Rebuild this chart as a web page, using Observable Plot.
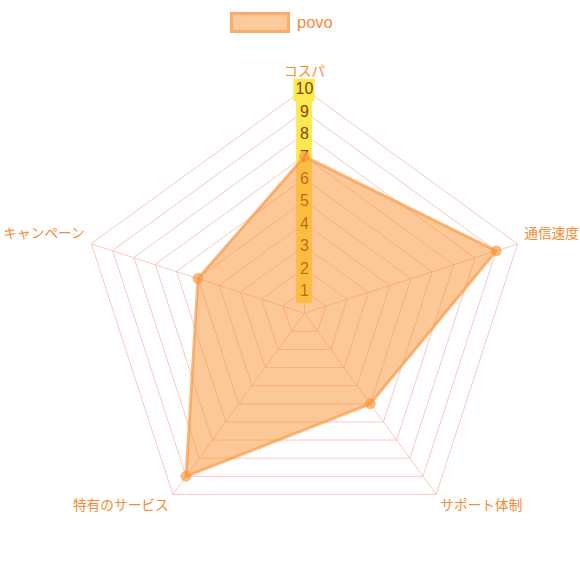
<!DOCTYPE html>
<html><head><meta charset="utf-8">
<script src="https://cdn.jsdelivr.net/npm/d3@7"></script>
<script src="https://cdn.jsdelivr.net/npm/@observablehq/plot@0.6"></script>
<style>
body{margin:0;background:#fff;font-family:"Noto Sans CJK JP","Noto Sans",sans-serif}
#legend{position:relative;height:44px;width:580px}
#legend .swatch{position:absolute;left:230px;top:12px;width:60px;height:21px;box-sizing:border-box;background:rgba(252,150,60,0.5);border:3px solid rgba(247,150,60,0.55)}
#legend .lab{position:absolute;left:297px;top:12px;line-height:21px;font-size:16.5px;color:#f68a35;font-family:"Liberation Sans",Arial,sans-serif}
#chart svg{display:block}
</style></head><body>
<div id="legend"><span class="swatch"></span><span class="lab"></span></div>
<div id="chart"></div>
<script>
const seriesName = "povo";
const categories = ["コスパ", "通信速度", "サポート体制", "特有のサービス", "キャンペーン"];
const values = [7, 9, 5, 9, 5];
const ticks = [1, 2, 3, 4, 5, 6, 7, 8, 9, 10];
const maxValue = 10;

document.querySelector("#legend .lab").textContent = seriesName;

const W = 580, H = 536, unit = 22.4, cx = 304, cy = 268.7;
const n = categories.length;
const ang = i => i * 2 * Math.PI / n;
const px = (r, i) => r * Math.sin(ang(i));
const py = (r, i) => r * Math.cos(ang(i));

const grid = ticks.flatMap(t => d3.range(n).map(i => ({t, x: px(t, i), y: py(t, i)})));
const spokes = d3.range(n).map(i => ({x1: 0, y1: 0, x2: px(maxValue, i), y2: py(maxValue, i)}));
const labelR = maxValue + 7 / unit;
const labels = categories.map((c, i) => {
  const s = Math.sin(ang(i)), co = Math.cos(ang(i));
  return {c, x: px(labelR, i), y: py(labelR, i),
    ta: s > 0.01 ? "start" : s < -0.01 ? "end" : "middle",
    la: co >= 0 ? "bottom" : "top"};
});
const pts = values.map((v, i) => ({v, x: px(v, i), y: py(v, i)}));
const halfW = t => (5.2 + String(t).length * 2.7) / unit;

const labelMarks = [];
for (const ta of ["start", "end", "middle"]) for (const la of ["bottom", "top"]) {
  labelMarks.push(Plot.text(labels, {filter: d => d.ta === ta && d.la === la, x: "x", y: "y", text: "c",
    textAnchor: ta, lineAnchor: la, dy: la === "bottom" ? (ta === "middle" ? -6 : -4) : 0,
    fontSize: 13.7, fill: "#f68a35", fontFamily: "Noto Sans CJK JP"}));
}

const chart = Plot.plot({
  width: W, height: H, margin: 0,
  x: {domain: [-cx / unit, (W - cx) / unit], range: [0, W], axis: null},
  y: {domain: [-(H - cy) / unit, cy / unit], range: [H, 0], axis: null},
  marks: [
    Plot.line(grid, {x: "x", y: "y", z: "t", curve: "linear-closed", stroke: "#f4aaa2", strokeOpacity: 0.65, strokeWidth: 1}),
    Plot.link(spokes, {x1: "x1", y1: "y1", x2: "x2", y2: "y2", stroke: "#f4aaa2", strokeOpacity: 0.65, strokeWidth: 1}),
    Plot.rect(ticks, {x1: t => -halfW(t), x2: t => halfW(t), y1: t => t - 0.56, y2: t => t + 0.45, fill: "#fbe94e"}),
    Plot.text(ticks, {x: () => 0, y: t => t, text: t => String(t), fontSize: 16, fill: "#8f3e14", fontFamily: "Liberation Sans"}),
    Plot.line(pts, {x: "x", y: "y", curve: "linear-closed", fill: "rgb(252,145,50)", fillOpacity: 0.5, stroke: "rgb(247,150,60)", strokeOpacity: 0.65, strokeWidth: 3}),
    Plot.dot(pts, {x: "x", y: "y", r: 5, fill: "rgb(247,150,60)", fillOpacity: 0.65, stroke: "rgb(247,150,60)", strokeOpacity: 0.5, strokeWidth: 1}),
    ...labelMarks
  ]
});
document.getElementById("chart").appendChild(chart);
</script>
</body></html>
